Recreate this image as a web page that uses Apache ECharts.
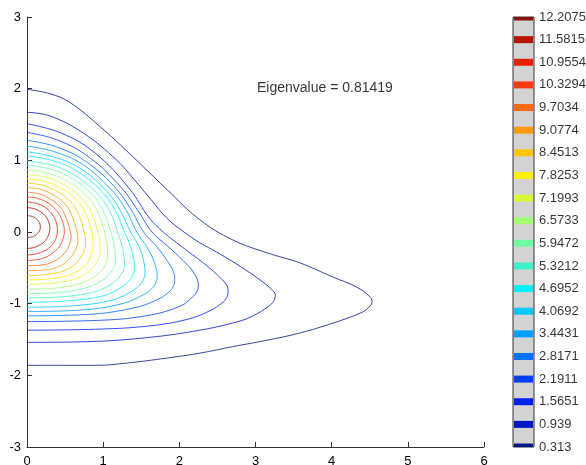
<!DOCTYPE html>
<html><head><meta charset="utf-8">
<script src="https://cdn.jsdelivr.net/npm/echarts@6/dist/echarts.min.js"></script>
<style>html,body{margin:0;padding:0;background:#fff}#chart{width:586px;height:465px}</style>
</head><body><div id="chart"></div>
<script>
// contour levels (colorbar tick labels)
const levels = [0.313, 0.939, 1.5651, 2.1911, 2.8171, 3.4431, 4.0692, 4.6952, 5.3212, 5.9472,
  6.5733, 7.1993, 7.8253, 8.4513, 9.0774, 9.7034, 10.3294, 10.9554, 11.5815, 12.2075];
const levelColors = ['#001888', '#0018C0', '#0020F0', '#0040F0', '#0070FF', '#00A0FF', '#00C8FF',
  '#00F0FF', '#40F0C8', '#70FFA0', '#A0FF70', '#D8F838', '#FFF000', '#FFC400', '#FF9A10',
  '#FF6A10', '#FF3A10', '#E82000', '#B81400', '#8B1010'];

// contour lines: [x, y]
const contour01 = [[0,1.99],[0.30,1.93],[0.56,1.81],[0.96,1.47],[1.39,1.05],[1.84,0.59],[2.27,0.17],[2.70,-0.11],[3.15,-0.29],[3.58,-0.43],[4.02,-0.63],[4.33,-0.77],[4.50,-0.90],[4.53,-0.97],[4.48,-1.06],[4.38,-1.13],[4.02,-1.27],[3.58,-1.41],[3.15,-1.51],[2.70,-1.60],[2.27,-1.69],[1.83,-1.76],[1.30,-1.83],[0.92,-1.86],[0,-1.86]];
const contour02 = [[0,1.67],[0.30,1.62],[0.74,1.38],[1.18,1.00],[1.40,0.74],[1.63,0.45],[1.83,0.20],[2.06,0.0],[2.27,-0.15],[2.49,-0.28],[2.80,-0.48],[3.06,-0.67],[3.20,-0.79],[3.26,-0.88],[3.24,-0.96],[3.18,-1.03],[2.95,-1.18],[2.70,-1.27],[2.27,-1.37],[1.61,-1.47],[0.80,-1.53],[0,-1.54]];
const contour03 = [[0,1.51],[0.45,1.38],[0.895,1.10],[1.34,0.61],[1.61,0.19],[1.79,0.0],[2.05,-0.22],[2.30,-0.42],[2.50,-0.60],[2.62,-0.74],[2.64,-0.83],[2.62,-0.92],[2.56,-0.99],[2.40,-1.10],[2.10,-1.22],[1.61,-1.31],[0.96,-1.355],[0,-1.37]];
const contour04 = [[0,1.39],[0.41,1.28],[0.82,1.04],[1.23,0.63],[1.48,0.26],[1.64,0.0],[1.85,-0.20],[2.05,-0.40],[2.19,-0.57],[2.25,-0.74],[2.23,-0.83],[2.17,-0.91],[2.02,-1.03],[1.61,-1.16],[1.00,-1.23],[0,-1.25]];
const contour05 = [[0,1.28],[0.38,1.19],[0.765,0.99],[1.15,0.63],[1.38,0.29],[1.53,0.0],[1.70,-0.20],[1.84,-0.40],[1.92,-0.55],[1.94,-0.67],[1.92,-0.76],[1.86,-0.84],[1.72,-0.94],[1.40,-1.06],[0.80,-1.15],[0,-1.17]];
const contour06 = [[0,1.20],[0.36,1.12],[0.72,0.95],[1.08,0.62],[1.30,0.31],[1.44,0.0],[1.58,-0.22],[1.67,-0.42],[1.71,-0.62],[1.69,-0.71],[1.64,-0.79],[1.52,-0.88],[1.25,-1.00],[0.70,-1.09],[0,-1.11]];
const contour07 = [[0,1.12],[0.34,1.05],[0.68,0.90],[1.02,0.60],[1.22,0.31],[1.36,0.0],[1.47,-0.20],[1.53,-0.40],[1.55,-0.57],[1.53,-0.66],[1.48,-0.74],[1.37,-0.83],[1.12,-0.95],[0.60,-1.03],[0,-1.05]];
const contour08 = [[0,1.06],[0.32,1.00],[0.64,0.86],[0.96,0.59],[1.15,0.32],[1.28,0.0],[1.36,-0.20],[1.40,-0.37],[1.41,-0.51],[1.39,-0.60],[1.34,-0.68],[1.24,-0.77],[1.00,-0.89],[0.55,-0.96],[0,-0.98]];
const contour09 = [[0,0.99],[0.30,0.94],[0.595,0.81],[0.89,0.57],[1.07,0.32],[1.19,0.0],[1.25,-0.20],[1.27,-0.33],[1.28,-0.46],[1.26,-0.55],[1.21,-0.63],[1.12,-0.72],[0.90,-0.83],[0.50,-0.90],[0,-0.92]];
const contour10 = [[0,0.93],[0.275,0.886],[0.55,0.772],[0.825,0.558],[0.99,0.316],[1.10,0.0],[1.145,-0.20],[1.16,-0.40],[1.14,-0.49],[1.09,-0.57],[1.01,-0.66],[0.80,-0.77],[0.45,-0.84],[0,-0.86]];
const contour11 = [[0,0.865],[0.255,0.827],[0.51,0.722],[0.765,0.528],[0.918,0.303],[1.02,0.0],[1.05,-0.17],[1.06,-0.34],[1.04,-0.43],[1.00,-0.51],[0.92,-0.60],[0.72,-0.71],[0.40,-0.78],[0,-0.80]];
const contour12 = [[0,0.80],[0.2325,0.768],[0.465,0.672],[0.6975,0.496],[0.837,0.288],[0.93,0.0],[0.955,-0.15],[0.96,-0.28],[0.94,-0.37],[0.90,-0.45],[0.83,-0.54],[0.65,-0.65],[0.36,-0.71],[0,-0.73]];
const contour13 = [[0,0.74],[0.2125,0.712],[0.425,0.625],[0.6375,0.466],[0.765,0.274],[0.85,0.0],[0.865,-0.12],[0.87,-0.22],[0.85,-0.31],[0.81,-0.39],[0.75,-0.48],[0.58,-0.59],[0.32,-0.65],[0,-0.67]];
const contour14 = [[0,0.68],[0.1875,0.656],[0.375,0.578],[0.5625,0.435],[0.675,0.258],[0.75,0.0],[0.765,-0.08],[0.77,-0.16],[0.755,-0.25],[0.72,-0.33],[0.66,-0.42],[0.51,-0.53],[0.28,-0.59],[0,-0.61]];
const contour15 = [[0,0.62],[0.1625,0.599],[0.325,0.530],[0.4875,0.403],[0.585,0.242],[0.655,0.0],[0.67,-0.11],[0.655,-0.20],[0.62,-0.28],[0.57,-0.36],[0.44,-0.47],[0.24,-0.53],[0,-0.54]];
const contour16 = [[0,0.555],[0.14,0.537],[0.28,0.477],[0.42,0.364],[0.504,0.222],[0.57,0.0],[0.58,-0.06],[0.57,-0.13],[0.54,-0.22],[0.49,-0.30],[0.37,-0.40],[0.20,-0.46],[0,-0.47]];
const contour17 = [[0,0.49],[0.127,0.473],[0.245,0.424],[0.346,0.346],[0.424,0.245],[0.473,0.127],[0.49,0.0],[0.47,-0.10],[0.43,-0.20],[0.34,-0.29],[0.25,-0.35],[0.13,-0.385],[0,-0.40]];
const contour18 = [[0,0.42],[0.104,0.405],[0.20,0.368],[0.283,0.305],[0.346,0.225],[0.386,0.13],[0.40,0.03],[0.39,-0.06],[0.35,-0.15],[0.28,-0.23],[0.205,-0.275],[0.10,-0.31],[0,-0.32]];
const contour19 = [[0,0.34],[0.078,0.33],[0.15,0.30],[0.212,0.255],[0.26,0.195],[0.29,0.125],[0.30,0.05],[0.29,-0.02],[0.26,-0.09],[0.212,-0.15],[0.15,-0.19],[0.078,-0.22],[0,-0.23]];
const contour20 = [[0,0.23],[0.088,0.209],[0.152,0.15],[0.175,0.07],[0.152,-0.005],[0.088,-0.06],[0,-0.08]];
const contours = [contour01, contour02, contour03, contour04, contour05, contour06, contour07, contour08, contour09, contour10,
  contour11, contour12, contour13, contour14, contour15, contour16, contour17, contour18, contour19, contour20];

const eigenText = 'Eigenvalue = 0.81419';
const eigenAnchor = [3.02, 2.01];

const FONT = '"Liberation Sans", Arial, Helvetica, sans-serif';
const chart = echarts.init(document.getElementById('chart'), null, {renderer: 'canvas'});

const series = contours.map((pts, i) => ({
  type: 'line', xAxisIndex: 0, yAxisIndex: 0, data: pts, smooth: 0.4,
  showSymbol: false, symbol: 'none', silent: true, z: 2,
  lineStyle: {color: levelColors[i], width: 1, opacity: 0.8}
}));
series.push({
  type: 'scatter', xAxisIndex: 0, yAxisIndex: 0, data: [eigenAnchor], symbolSize: 0, silent: true,
  label: {show: true, position: 'right', distance: 0, formatter: eigenText, fontSize: 14, color: '#000', fontFamily: FONT}
});
series.push({
  type: 'custom', xAxisIndex: 1, yAxisIndex: 1, silent: true, z: 3,
  data: levels.map((v, i) => [0.5, v, i]),
  renderItem: (params, api) => {
    const v = api.value(1), i = api.value(2);
    const p0 = api.coord([0, v]), p1 = api.coord([1, v]);
    const cs = params.coordSys;
    const shape = echarts.graphic.clipRectByRect(
      {x: p0[0] + 1, y: p0[1] - 3.5, width: p1[0] - p0[0] - 2, height: 7},
      {x: cs.x, y: cs.y, width: cs.width, height: cs.height});
    return shape ? {type: 'rect', shape: shape, style: {fill: levelColors[i]}} : null;
  }
});
series.push({
  type: 'scatter', xAxisIndex: 1, yAxisIndex: 1, data: levels.map(v => [1, v]), symbolSize: 0, clip: false, silent: true,
  label: {show: true, position: 'right', distance: 5, formatter: p => String(p.value[1]), fontSize: 13, color: '#000', fontFamily: FONT}
});

const axisCommon = {
  axisLine: {show: true, onZero: false, lineStyle: {color: '#333', width: 1}},
  axisTick: {show: true, inside: true, length: 5, lineStyle: {color: '#333'}},
  splitLine: {show: false}
};

chart.setOption({
  animation: false,
  backgroundColor: '#fff',
  textStyle: {fontFamily: FONT},
  grid: [
    {left: 27, top: 17, width: 457, height: 430, outerBoundsMode: 'none'},
    {left: 513, top: 17, width: 21, height: 430, show: true, backgroundColor: '#d3d3d3', borderColor: '#333', borderWidth: 1, outerBoundsMode: 'none'}
  ],
  xAxis: [
    Object.assign({type: 'value', gridIndex: 0, min: 0, max: 6, interval: 1,
      axisLabel: {fontSize: 13, color: '#000', margin: 8, fontFamily: FONT}}, axisCommon),
    {type: 'value', gridIndex: 1, min: 0, max: 1, show: false}
  ],
  yAxis: [
    Object.assign({type: 'value', gridIndex: 0, min: -3, max: 3, interval: 1,
      axisLabel: {fontSize: 13, color: '#000', margin: 6, fontFamily: FONT}}, axisCommon),
    {type: 'value', gridIndex: 1, min: 0.313, max: 12.2075, show: false}
  ],
  series: series
});
</script></body></html>
